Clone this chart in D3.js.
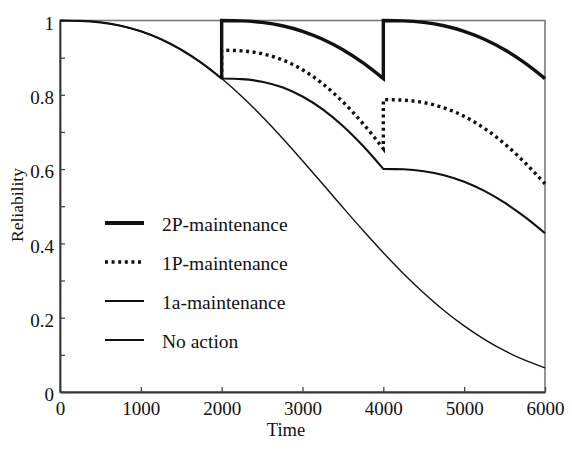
<!DOCTYPE html>
<html>
<head>
<meta charset="utf-8">
<script src="https://cdn.jsdelivr.net/npm/d3@7"></script>
<style>
  html, body { margin: 0; padding: 0; background: #fff; }
  svg { display: block; font-family: "Liberation Serif", "Times New Roman", serif; }
</style>
</head>
<body>
<svg id="chart" width="572" height="450"></svg>
<script>
// ---------- data ----------
const time = [0, 250, 500, 750, 1000, 1250, 1500, 1750, 2000, 2250, 2500, 2750, 3000,
              3250, 3500, 3750, 4000, 4250, 4500, 4750, 5000, 5250, 5500, 5750, 6000];
const noAction = [1, 0.9991, 0.9949, 0.9859, 0.9710, 0.9496, 0.9213, 0.8859, 0.8437,
                  0.7954, 0.7416, 0.6837, 0.6225, 0.5597, 0.4966, 0.4346, 0.3749,
                  0.3185, 0.2666, 0.2196, 0.1780, 0.1419, 0.1112, 0.0856, 0.0648];

// 1a-maintenance (repeated times mark the maintenance instants)
const time1a = [0, 250, 500, 750, 1000, 1250, 1500, 1750, 2000,
                2000, 2250, 2500, 2750, 3000, 3250, 3500, 3750, 4000,
                4000, 4250, 4500, 4750, 5000, 5250, 5500, 5750, 6000];
const maint1a = [1, 0.9991, 0.9949, 0.9859, 0.9710, 0.9496, 0.9213, 0.8859, 0.8437,
                 0.8437, 0.8422, 0.8351, 0.8201, 0.7954, 0.7608, 0.7161, 0.6621, 0.6005,
                 0.6005, 0.5994, 0.5944, 0.5837, 0.5662, 0.5415, 0.5097, 0.4713, 0.4274];

// preventive maintenance series (start at first maintenance instant)
const timeP = [2000,
               2000, 2250, 2500, 2750, 3000, 3250, 3500, 3750, 4000,
               4000, 4250, 4500, 4750, 5000, 5250, 5500, 5750, 6000];
const maint2P = [0.8437,
                 1, 0.9991, 0.9949, 0.9859, 0.9710, 0.9496, 0.9213, 0.8859, 0.8437,
                 1, 0.9991, 0.9949, 0.9859, 0.9710, 0.9496, 0.9213, 0.8859, 0.8437];
const maint1P = [0.8437,
                 0.92, 0.9183, 0.9106, 0.8942, 0.8674, 0.8296, 0.7809, 0.7220, 0.6549,
                 0.787, 0.7856, 0.7790, 0.7650, 0.7420, 0.7096, 0.6680, 0.6176, 0.5602];

const xTickValues = [0, 1000, 2000, 3000, 4000, 5000, 6000];
const xTickLabels = ["0", "1000", "2000", "3000", "4000", "5000", "6000"];
const yTickValues = [0, 0.1, 0.2, 0.3, 0.4, 0.5, 0.6, 0.7, 0.8, 0.9, 1];
const yTickLabels = ["0", "", "0.2", "", "0.4", "", "0.6", "", "0.8", "", "1"];

const legendLabels = ["2P-maintenance", "1P-maintenance", "1a-maintenance", "No action"];
const xTitle = "Time";
const yTitle = "Reliability";

// ---------- drawing ----------
const svg = d3.select("#chart");
const x = d3.scaleLinear().domain([0, 6000]).range([60, 545]);
const y = d3.scaleLinear().domain([0, 1]).range([392, 20.5]);

const styles = {
  "2P-maintenance": { width: 3.4, dash: null },
  "1P-maintenance": { width: 3.4, dash: "3,3.6" },
  "1a-maintenance": { width: 2.1, dash: null },
  "No action":      { width: 1.4, dash: null }
};

// frame (top / right)
svg.append("rect")
  .attr("x", x(0)).attr("y", y(1))
  .attr("width", x(6000) - x(0)).attr("height", y(0) - y(1))
  .attr("fill", "none").attr("stroke", "#7a7a7a").attr("stroke-width", 1.6);

// axes
const xAxis = d3.axisBottom(x)
  .tickValues(xTickValues)
  .tickFormat((d, i) => xTickLabels[i])
  .tickSizeInner(-5).tickSizeOuter(0).tickPadding(9.5);
const gx = svg.append("g").attr("transform", `translate(0,${y(0)})`).call(xAxis);

const yAxis = d3.axisLeft(y)
  .tickValues(yTickValues)
  .tickFormat((d, i) => yTickLabels[i])
  .tickSizeInner(-5).tickSizeOuter(0).tickPadding(6);
const gy = svg.append("g").attr("transform", `translate(${x(0)},0)`).call(yAxis);

[gx, gy].forEach(g => {
  g.select(".domain").attr("stroke", "#333").attr("stroke-width", 1.8);
  g.selectAll(".tick line").attr("stroke", "#444").attr("stroke-width", 1.3);
  g.selectAll(".tick text").attr("fill", "#111")
    .style("font-family", '"Liberation Serif", "Times New Roman", serif')
    .style("font-size", "19px");
});
gy.selectAll(".tick text").attr("dy", null).attr("y", 8.8);

// series paths: break at repeated times, join pieces with straight jumps
function seriesPath(ts, vs) {
  const segs = [[]];
  ts.forEach((t, i) => {
    if (i > 0 && t === ts[i - 1]) segs.push([]);
    segs[segs.length - 1].push([t, vs[i]]);
  });
  const line = d3.line().x(d => x(d[0])).y(d => y(d[1])).curve(d3.curveMonotoneX);
  return segs.map((s, i) => {
    let p = s.length > 1 ? line(s) : `M${x(s[0][0])},${y(s[0][1])}`;
    return i === 0 ? p : "L" + p.slice(1);
  }).join("");
}

const series = [
  { name: "No action", t: time, v: noAction },
  { name: "1a-maintenance", t: time1a, v: maint1a },
  { name: "1P-maintenance", t: timeP, v: maint1P },
  { name: "2P-maintenance", t: timeP, v: maint2P }
];

svg.append("g").selectAll("path").data(series).join("path")
  .attr("d", d => seriesPath(d.t, d.v))
  .attr("fill", "none")
  .attr("stroke", "#111")
  .attr("stroke-width", d => styles[d.name].width)
  .attr("stroke-dasharray", d => styles[d.name].dash)
  .attr("stroke-linejoin", "miter");

// legend
const legendY = d3.scaleLinear().domain([0, 3]).range([223, 340]);
const lg = svg.append("g").selectAll("g").data(legendLabels).join("g")
  .attr("transform", (d, i) => `translate(0,${legendY(i)})`);
lg.append("line")
  .attr("x1", 105).attr("x2", 144).attr("y1", 0).attr("y2", 0)
  .attr("stroke", "#111")
  .attr("stroke-width", d => d === "No action" ? 2 : styles[d].width + (d === "2P-maintenance" ? 0.6 : 0))
  .attr("stroke-dasharray", d => styles[d].dash);
lg.append("text")
  .attr("x", 162).attr("y", 7.5)
  .attr("fill", "#111")
  .style("font-size", "19.5px")
  .text(d => d);

// axis titles
svg.append("text")
  .attr("x", 286).attr("y", 436)
  .attr("text-anchor", "middle")
  .attr("fill", "#111").style("font-size", "18.5px")
  .text(xTitle);
svg.append("text")
  .attr("transform", "translate(23,205) rotate(-90)")
  .attr("text-anchor", "middle")
  .attr("fill", "#111").style("font-size", "17.5px")
  .text(yTitle);
</script>
</body>
</html>
